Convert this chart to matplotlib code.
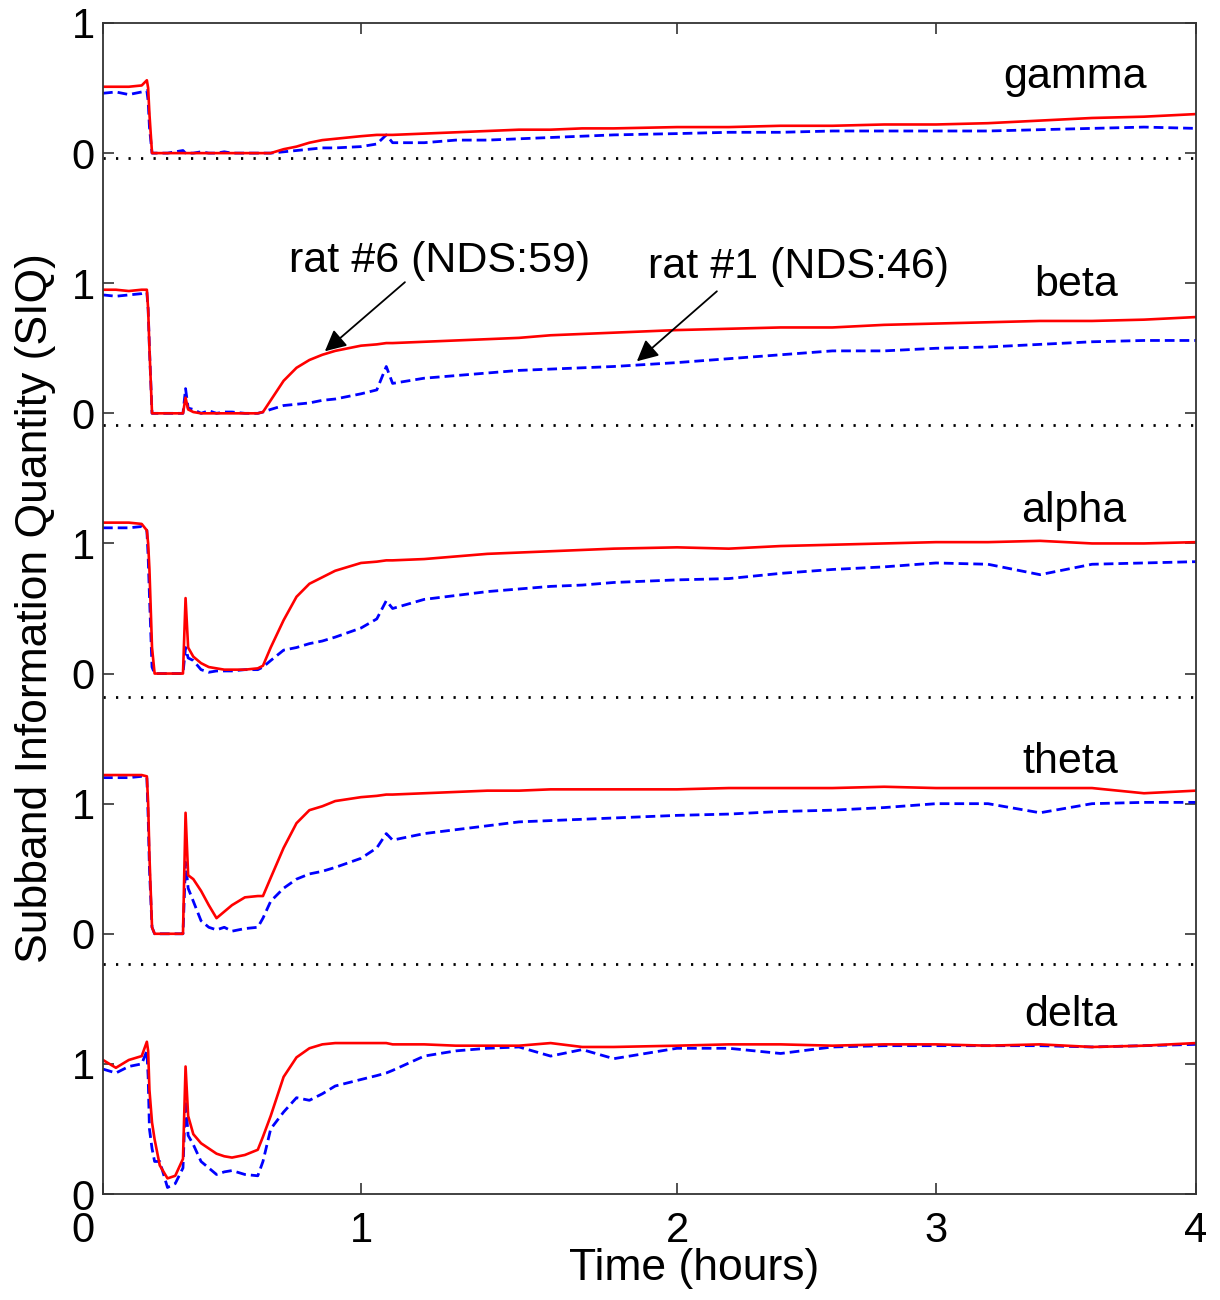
import numpy as np
import matplotlib
matplotlib.use('Agg')
import matplotlib.pyplot as plt
import matplotlib.transforms as mtransforms

plt.rcParams['font.family'] = ['Liberation Sans', 'DejaVu Sans']

# time (hours), shared by every trace
t = [0, 0.05, 0.1, 0.15, 0.17, 0.175, 0.18, 0.19, 0.2, 0.22,
     0.25, 0.28, 0.31, 0.32, 0.33, 0.35, 0.38, 0.41, 0.44, 0.47,
     0.5, 0.55, 0.6, 0.62, 0.65, 0.7, 0.75, 0.8, 0.85, 0.9,
     1.0, 1.05, 1.08, 1.1, 1.2, 1.3, 1.4, 1.5, 1.6, 1.7,
     1.8, 2.0, 2.2, 2.4, 2.6, 2.8, 3.0, 3.2, 3.4, 3.6,
     3.8, 4.0]

# rat #6 (red) and rat #1 (blue), SIQ per band
gamma_r6 = [0.51, 0.51, 0.51, 0.52, 0.56, 0.50, 0.30, 0.00, 0.00, 0.00,
            0.00, 0.00, 0.00, 0.00, 0.00, 0.00, 0.00, 0.00, 0.00, 0.00,
            0.00, 0.00, 0.00, 0.00, 0.00, 0.03, 0.05, 0.08, 0.10, 0.11,
            0.13, 0.14, 0.14, 0.14, 0.15, 0.16, 0.17, 0.18, 0.18, 0.19,
            0.19, 0.20, 0.20, 0.21, 0.21, 0.22, 0.22, 0.23, 0.25, 0.27,
            0.28, 0.30]
gamma_r1 = [0.46, 0.47, 0.45, 0.47, 0.48, 0.40, 0.20, 0.00, 0.00, 0.00,
            0.00, 0.01, 0.02, 0.00, 0.00, 0.00, 0.01, 0.00, 0.00, 0.01,
            0.00, 0.00, 0.00, 0.00, 0.00, 0.01, 0.02, 0.03, 0.04, 0.04,
            0.05, 0.07, 0.14, 0.08, 0.08, 0.10, 0.10, 0.11, 0.12, 0.13,
            0.14, 0.15, 0.16, 0.16, 0.17, 0.17, 0.17, 0.17, 0.18, 0.19,
            0.20, 0.19]
beta_r6 = [0.95, 0.95, 0.94, 0.95, 0.95, 0.80, 0.50, 0.00, 0.00, 0.00,
           0.00, 0.00, 0.00, 0.12, 0.03, 0.01, 0.00, 0.00, 0.00, 0.00,
           0.00, 0.00, 0.00, 0.01, 0.10, 0.25, 0.35, 0.41, 0.45, 0.48,
           0.52, 0.53, 0.54, 0.54, 0.55, 0.56, 0.57, 0.58, 0.60, 0.61,
           0.62, 0.64, 0.65, 0.66, 0.66, 0.68, 0.69, 0.70, 0.71, 0.71,
           0.72, 0.74]
beta_r1 = [0.91, 0.90, 0.91, 0.92, 0.93, 0.80, 0.50, 0.00, 0.00, 0.00,
           0.00, 0.00, 0.00, 0.19, 0.04, 0.03, 0.00, 0.02, 0.00, 0.01,
           0.01, 0.00, 0.00, 0.01, 0.03, 0.06, 0.07, 0.08, 0.10, 0.11,
           0.15, 0.18, 0.36, 0.23, 0.27, 0.29, 0.31, 0.33, 0.34, 0.35,
           0.36, 0.39, 0.42, 0.45, 0.48, 0.48, 0.50, 0.51, 0.53, 0.55,
           0.56, 0.56]
alpha_r6 = [1.16, 1.16, 1.16, 1.15, 1.10, 1.00, 0.80, 0.20, 0.00, 0.00,
            0.00, 0.00, 0.00, 0.58, 0.20, 0.13, 0.08, 0.05, 0.04, 0.03,
            0.03, 0.03, 0.04, 0.06, 0.20, 0.41, 0.59, 0.69, 0.74, 0.79,
            0.85, 0.86, 0.87, 0.87, 0.88, 0.90, 0.92, 0.93, 0.94, 0.95,
            0.96, 0.97, 0.96, 0.98, 0.99, 1.00, 1.01, 1.01, 1.02, 1.00,
            1.00, 1.01]
alpha_r1 = [1.12, 1.12, 1.12, 1.13, 1.10, 0.90, 0.60, 0.05, 0.00, 0.00,
            0.00, 0.00, 0.00, 0.20, 0.12, 0.10, 0.03, 0.01, 0.02, 0.02,
            0.02, 0.03, 0.03, 0.05, 0.10, 0.18, 0.20, 0.23, 0.25, 0.28,
            0.35, 0.42, 0.56, 0.50, 0.57, 0.60, 0.63, 0.65, 0.67, 0.68,
            0.70, 0.72, 0.73, 0.77, 0.80, 0.82, 0.85, 0.84, 0.76, 0.84,
            0.85, 0.86]
theta_r6 = [1.22, 1.22, 1.22, 1.22, 1.21, 1.00, 0.60, 0.05, 0.00, 0.00,
            0.00, 0.00, 0.00, 0.93, 0.45, 0.42, 0.33, 0.22, 0.12, 0.17,
            0.22, 0.28, 0.29, 0.29, 0.43, 0.66, 0.85, 0.95, 0.98, 1.02,
            1.05, 1.06, 1.07, 1.07, 1.08, 1.09, 1.10, 1.10, 1.11, 1.11,
            1.11, 1.11, 1.12, 1.12, 1.12, 1.13, 1.12, 1.12, 1.12, 1.12,
            1.08, 1.10]
theta_r1 = [1.20, 1.20, 1.20, 1.21, 1.20, 0.90, 0.50, 0.05, 0.00, 0.00,
            0.00, 0.00, 0.00, 0.55, 0.35, 0.25, 0.10, 0.05, 0.03, 0.05,
            0.02, 0.04, 0.05, 0.12, 0.25, 0.35, 0.42, 0.46, 0.48, 0.51,
            0.58, 0.66, 0.77, 0.72, 0.77, 0.80, 0.83, 0.86, 0.87, 0.88,
            0.89, 0.91, 0.92, 0.94, 0.95, 0.97, 1.00, 1.00, 0.93, 1.00,
            1.01, 1.01]
delta_r6 = [1.03, 0.97, 1.03, 1.06, 1.17, 1.10, 0.80, 0.55, 0.42, 0.22,
            0.12, 0.14, 0.27, 0.98, 0.60, 0.46, 0.39, 0.35, 0.31, 0.29,
            0.28, 0.30, 0.34, 0.44, 0.60, 0.90, 1.05, 1.12, 1.15, 1.16,
            1.16, 1.16, 1.16, 1.15, 1.15, 1.14, 1.14, 1.14, 1.16, 1.13,
            1.13, 1.14, 1.15, 1.15, 1.14, 1.15, 1.15, 1.14, 1.15, 1.13,
            1.14, 1.16]
delta_r1 = [0.96, 0.93, 0.98, 1.00, 1.10, 0.90, 0.50, 0.35, 0.25, 0.25,
            0.05, 0.08, 0.20, 0.72, 0.45, 0.38, 0.25, 0.20, 0.15, 0.17,
            0.18, 0.15, 0.14, 0.25, 0.50, 0.63, 0.74, 0.72, 0.77, 0.83,
            0.88, 0.91, 0.93, 0.95, 1.06, 1.10, 1.12, 1.13, 1.06, 1.11,
            1.04, 1.12, 1.12, 1.08, 1.13, 1.14, 1.14, 1.14, 1.14, 1.13,
            1.14, 1.15]

bands = ['delta', 'theta', 'alpha', 'beta', 'gamma']
offsets = [0, 2, 4, 6, 8]
red_traces = [delta_r6, theta_r6, alpha_r6, beta_r6, gamma_r6]
blue_traces = [delta_r1, theta_r1, alpha_r1, beta_r1, gamma_r1]
sep_levels = [1.77, 3.82, 5.91, 7.96]

# the printed time axis is not evenly spaced, follow its tick spacing
tick_hours = [0, 1, 2, 3, 4]
tick_px = [0, 258, 574, 833, 1093]


def fwd(x):
    return np.interp(x, tick_hours, tick_px)


def inv(u):
    return np.interp(u, tick_px, tick_hours)


fig = plt.figure(figsize=(12.2, 13.0), dpi=100)
ax = fig.add_axes([103 / 1220, 1 - 1194 / 1300, 1093 / 1220, 1171 / 1300])
ax.set_xscale('function', functions=(fwd, inv))

for off, rr, bb in zip(offsets, red_traces, blue_traces):
    ax.plot(t, np.array(bb) + off, color='#0000ff', lw=2.0,
            linestyle=(0, (3.5, 1.8)))
    ax.plot(t, np.array(rr) + off, color='#ff0000', lw=1.9)

for s in sep_levels:
    ax.axhline(s, color='k', lw=2.0, linestyle=(0, (0.8, 3.7)))

# band names
label_pos = {'gamma': (3.535, 8.585), 'beta': (3.538, 6.99),
             'alpha': (3.531, 5.246), 'theta': (3.515, 3.323),
             'delta': (3.519, 1.377)}
for name in bands:
    x, y = label_pos[name]
    ax.text(x, y, name, fontsize=31, ha='center', va='center')

arrow = dict(arrowstyle='-|>', color='k', lw=1.3, mutation_scale=32,
             shrinkA=0, shrinkB=0)
ax.text(1.25, 7.17, 'rat #6 (NDS:59)', fontsize=31, ha='center', va='center')
ax.annotate('', xy=(0.86, 6.477), xytext=(1.139, 7.008), arrowprops=arrow)
ax.text(2.471, 7.123, 'rat #1 (NDS:46)', fontsize=31, ha='center', va='center')
ax.annotate('', xy=(1.873, 6.4), xytext=(2.154, 6.938), arrowprops=arrow)

ax.set_xlim(0, 4)
ax.set_ylim(0, 9)
ax.set_xticks(tick_hours)
ax.set_xticklabels([str(h) for h in tick_hours])
ax.set_yticks(range(10))
ax.set_yticklabels(['0', '1'] * 5)
ax.tick_params(direction='in', length=8, width=1.2, labelsize=30,
               top=True, right=True, color='#333333')
ax.tick_params(axis='x', pad=12)
ax.tick_params(axis='y', pad=6)
for sp in ax.spines.values():
    sp.set_linewidth(1.3)
    sp.set_color('#333333')

# the "0" of the time axis sits a little left of its tick in the original
shift = mtransforms.ScaledTranslation(-0.2, 0, fig.dpi_scale_trans)
first = ax.get_xticklabels()[0]
first.set_transform(first.get_transform() + shift)

ax.set_xlabel('Time (hours)', fontsize=32)
ax.xaxis.set_label_coords(0.541, -0.046)
fig.text(36 / 1220, 1 - 608 / 1300, 'Subband Information Quantity (SIQ)',
         fontsize=32, rotation=90, ha='center', va='center')

fig.savefig('out.png', dpi=100)
